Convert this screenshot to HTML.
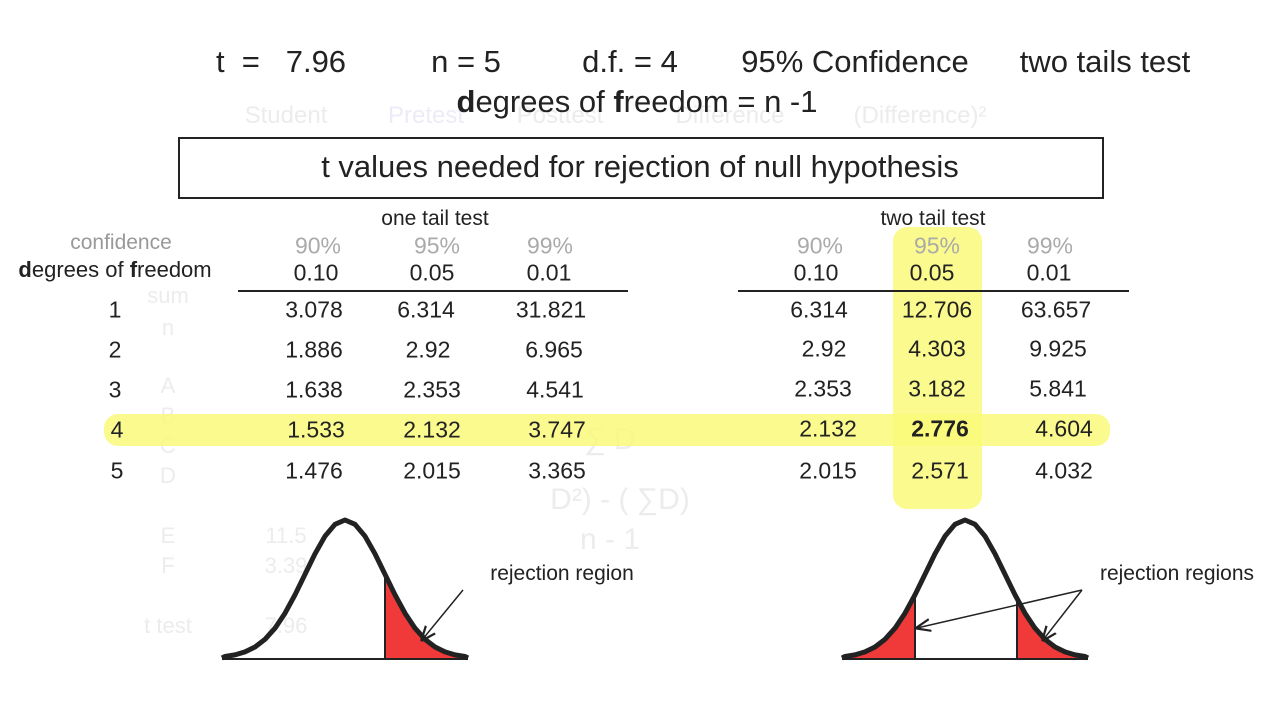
<!DOCTYPE html>
<html><head><meta charset="utf-8"><style>
body{margin:0;width:1280px;height:720px;background:#fff;overflow:hidden;position:relative;font-family:"Liberation Sans",sans-serif;color:#222}
.t{position:absolute;white-space:nowrap;transform:translate(-50%,-50%)}
.g{color:#ececec}
.hd{font-size:31px}
.n{font-size:23px}
.l{position:absolute;height:2px;background:#222}
</style></head><body>
<div class="t g" style="left:286px;top:116px;font-size:24px">Student</div>
<div class="t" style="left:426px;top:116px;font-size:24px;color:#ececf8">Pretest</div>
<div class="t g" style="left:560px;top:116px;font-size:24px">Posttest</div>
<div class="t g" style="left:730px;top:116px;font-size:24px">Difference</div>
<div class="t g" style="left:920px;top:116px;font-size:24px">(Difference)²</div>
<div class="t g" style="left:168px;top:296px;font-size:22px">sum</div>
<div class="t g" style="left:168px;top:328px;font-size:22px">n</div>
<div class="t g" style="left:168px;top:386px;font-size:22px">A</div>
<div class="t g" style="left:168px;top:416px;font-size:22px">B</div>
<div class="t g" style="left:168px;top:446px;font-size:22px">C</div>
<div class="t g" style="left:168px;top:476px;font-size:22px">D</div>
<div class="t g" style="left:168px;top:536px;font-size:22px">E</div>
<div class="t g" style="left:168px;top:566px;font-size:22px">F</div>
<div class="t g" style="left:168px;top:626px;font-size:22px">t test</div>
<div class="t g" style="left:286px;top:536px;font-size:22px">11.5</div>
<div class="t g" style="left:286px;top:566px;font-size:22px">3.39</div>
<div class="t g" style="left:286px;top:626px;font-size:22px">7.96</div>
<div class="t g" style="left:610px;top:540px;font-size:30px">n - 1</div>
<div class="t g" style="left:610px;top:440px;font-size:30px">∑ D</div>
<div class="t g" style="left:620px;top:500px;font-size:30px">D²) - ( ∑D)</div>

<div style="position:absolute;left:104px;top:414px;width:1006px;height:32px;background:#f9f97a;opacity:.85;border-radius:14px"></div>
<div style="position:absolute;left:893px;top:227px;width:89px;height:282px;background:#f9f97a;opacity:.85;border-radius:14px"></div>

<div class="t hd" style="left:281px;top:62px">t&nbsp;&nbsp;=&nbsp;&nbsp;&nbsp;7.96</div>
<div class="t hd" style="left:466px;top:62px">n = 5</div>
<div class="t hd" style="left:630px;top:62px">d.f. = 4</div>
<div class="t hd" style="left:855px;top:62px">95% Confidence</div>
<div class="t hd" style="left:1105px;top:62px">two tails test</div>
<div class="t hd" style="left:637px;top:102px"><b>d</b>egrees of <b>f</b>reedom = n -1</div>

<div style="position:absolute;left:178px;top:137px;width:922px;height:58px;border:2px solid #222"></div>
<div class="t hd" style="left:640px;top:167px">t values needed for rejection of null hypothesis</div>

<div class="t n" style="left:435px;top:219px;font-size:21px">one tail test</div>
<div class="t n" style="left:933px;top:219px;font-size:21px">two tail test</div>
<div class="t n" style="left:121px;top:243px;color:#999;font-size:21px">confidence</div>
<div class="t n" style="left:115px;top:270px;font-size:22px"><b>d</b>egrees of <b>f</b>reedom</div>

<div class="t n" style="left:318px;top:246px;color:#aaa">90%</div>
<div class="t n" style="left:437px;top:246px;color:#aaa">95%</div>
<div class="t n" style="left:550px;top:246px;color:#aaa">99%</div>
<div class="t n" style="left:316px;top:273px">0.10</div>
<div class="t n" style="left:432px;top:273px">0.05</div>
<div class="t n" style="left:549px;top:273px">0.01</div>
<div class="t n" style="left:820px;top:246px;color:#aaa">90%</div>
<div class="t n" style="left:937px;top:246px;color:#aaa">95%</div>
<div class="t n" style="left:1050px;top:246px;color:#aaa">99%</div>
<div class="t n" style="left:816px;top:273px">0.10</div>
<div class="t n" style="left:932px;top:273px">0.05</div>
<div class="t n" style="left:1049px;top:273px">0.01</div>
<div class="l" style="left:238px;top:290px;width:390px"></div>
<div class="l" style="left:738px;top:290px;width:391px"></div>

<div class="t n" style="left:115px;top:310px">1</div>
<div class="t n" style="left:115px;top:350px">2</div>
<div class="t n" style="left:115px;top:390px">3</div>
<div class="t n" style="left:117px;top:430px">4</div>
<div class="t n" style="left:117px;top:471px">5</div>

<div class="t n" style="left:314px;top:310px">3.078</div><div class="t n" style="left:426px;top:310px">6.314</div><div class="t n" style="left:551px;top:310px">31.821</div>
<div class="t n" style="left:314px;top:350px">1.886</div><div class="t n" style="left:428px;top:350px">2.92</div><div class="t n" style="left:554px;top:350px">6.965</div>
<div class="t n" style="left:314px;top:390px">1.638</div><div class="t n" style="left:432px;top:390px">2.353</div><div class="t n" style="left:555px;top:390px">4.541</div>
<div class="t n" style="left:316px;top:430px">1.533</div><div class="t n" style="left:432px;top:430px">2.132</div><div class="t n" style="left:557px;top:430px">3.747</div>
<div class="t n" style="left:314px;top:471px">1.476</div><div class="t n" style="left:432px;top:471px">2.015</div><div class="t n" style="left:557px;top:471px">3.365</div>

<div class="t n" style="left:819px;top:310px">6.314</div><div class="t n" style="left:937px;top:310px">12.706</div><div class="t n" style="left:1056px;top:310px">63.657</div>
<div class="t n" style="left:824px;top:349px">2.92</div><div class="t n" style="left:937px;top:349px">4.303</div><div class="t n" style="left:1058px;top:349px">9.925</div>
<div class="t n" style="left:823px;top:389px">2.353</div><div class="t n" style="left:937px;top:389px">3.182</div><div class="t n" style="left:1058px;top:389px">5.841</div>
<div class="t n" style="left:828px;top:429px">2.132</div><div class="t n" style="left:940px;top:429px"><b>2.776</b></div><div class="t n" style="left:1064px;top:429px">4.604</div>
<div class="t n" style="left:828px;top:471px">2.015</div><div class="t n" style="left:940px;top:471px">2.571</div><div class="t n" style="left:1064px;top:471px">4.032</div>

<div class="t n" style="left:562px;top:574px;font-size:21px">rejection region</div>
<div class="t n" style="left:1177px;top:574px;font-size:21px">rejection regions</div>

<svg width="1280" height="720" style="position:absolute;left:0;top:0">
<defs>
<marker id="a" markerWidth="10" markerHeight="10" refX="9" refY="5" orient="auto"><path d="M0,1 L10,5 L0,9" fill="none" stroke="#222" stroke-width="1.5"/></marker>
<path id="bell" d="M-123,658 L-120,656.5 L-110,654.9 L-100,651.9 L-90,647 L-80,639.3 L-70,628.2 L-60,613.2 L-50,594.8 L-40,574.3 L-30,553.8 L-20,536.2 L-10,524.3 L0,520 L10,524.3 L20,536.2 L30,553.8 L40,574.3 L50,594.8 L60,613.2 L70,628.2 L80,639.3 L90,647 L100,651.9 L110,654.9 L120,656.5 L123,658" fill="none" stroke="#222" stroke-width="5" stroke-linejoin="round"/>
</defs>
<g transform="translate(345,0)">
<path d="M40,658 L40,574.3 L50,594.8 L60,613.2 L70,628.2 L80,639.3 L90,647 L100,651.9 L110,654.9 L120,656.5 L123,658Z" fill="#f03a3a"/>
<use href="#bell"/><line x1="-123" y1="659" x2="123" y2="659" stroke="#222" stroke-width="2"/>
<line x1="40" y1="575" x2="40" y2="659" stroke="#222" stroke-width="2"/>
</g>
<g transform="translate(965,0)">
<path d="M-50,658 L-50,594.8 L-60,613.2 L-70,628.2 L-80,639.3 L-90,647 L-100,651.9 L-110,654.9 L-120,656.5 L-123,658Z" fill="#f03a3a"/>
<path d="M52,658 L52,598 L60,613.2 L70,628.2 L80,639.3 L90,647 L100,651.9 L110,654.9 L120,656.5 L123,658Z" fill="#f03a3a"/>
<use href="#bell"/><line x1="-123" y1="659" x2="123" y2="659" stroke="#222" stroke-width="2"/>
<line x1="-50" y1="595" x2="-50" y2="659" stroke="#222" stroke-width="2"/>
<line x1="52" y1="598" x2="52" y2="659" stroke="#222" stroke-width="2"/>
</g>
<line x1="463" y1="590" x2="422" y2="640" stroke="#222" stroke-width="1.5" marker-end="url(#a)"/>
<line x1="1082" y1="590" x2="917" y2="628" stroke="#222" stroke-width="1.5" marker-end="url(#a)"/>
<line x1="1082" y1="590" x2="1043" y2="640" stroke="#222" stroke-width="1.5" marker-end="url(#a)"/>
</svg>
</body></html>
